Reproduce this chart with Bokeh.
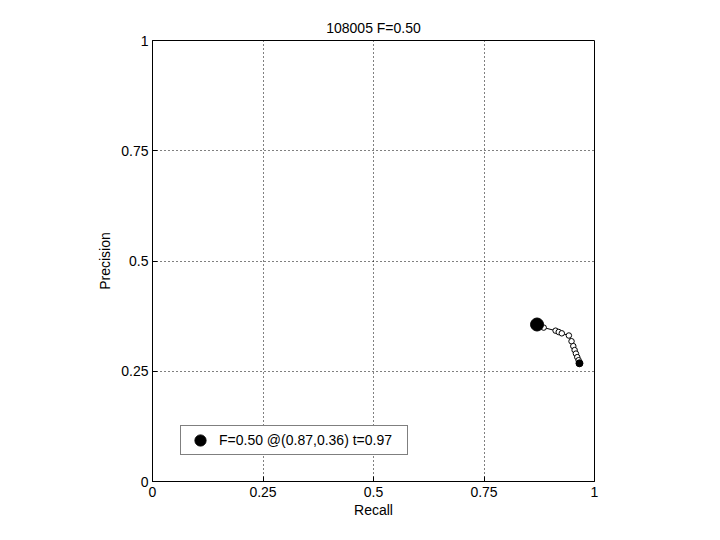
from bokeh.plotting import figure
from bokeh.models import Range1d, FixedTicker, Legend, LegendItem, Title
from bokeh.embed import file_html
from bokeh.resources import INLINE

# Data
recall = [0.866, 0.872, 0.885, 0.912, 0.919, 0.926, 0.942, 0.948, 0.952, 0.955, 0.958, 0.961, 0.964, 0.966]
precision = [0.356, 0.353, 0.349, 0.342, 0.339, 0.336, 0.331, 0.318, 0.307, 0.298, 0.290, 0.282, 0.275, 0.268]
best_recall = [0.87]
best_precision = [0.356]
title_text = "108005 F=0.50"
legend_text = "F=0.50 @(0.87,0.36) t=0.97"
ticks = [0, 0.25, 0.5, 0.75, 1]
tick_labels = {0: "0", 0.25: "0.25", 0.5: "0.5", 0.75: "0.75", 1: "1"}

FONT = "Liberation Sans"
FS = "14px"

p = figure(width=712, height=532, output_backend="svg", toolbar_location=None,
           x_range=Range1d(0, 1), y_range=Range1d(0, 1),
           min_border_left=152, min_border_right=118, min_border_top=40, min_border_bottom=51,
           frame_width=442, frame_height=441)

p.title = Title(text=title_text, align="center", text_font=FONT, text_font_size=FS,
                text_font_style="normal", text_color="black", offset=0)
p.outline_line_color = "black"
p.outline_line_width = 1
p.outline_line_alpha = 1
p.background_fill_color = "white"
p.border_fill_color = "white"

for ax in (p.xaxis[0], p.yaxis[0]):
    ax.ticker = FixedTicker(ticks=ticks)
    ax.major_label_overrides = tick_labels
    ax.major_tick_in = 5
    ax.major_tick_out = 0
    ax.minor_tick_in = 0
    ax.minor_tick_out = 0
    ax.axis_line_color = "black"
    ax.major_tick_line_color = "black"
    ax.major_label_text_font = FONT
    ax.major_label_text_font_size = FS
    ax.major_label_text_color = "black"
    ax.axis_label_text_font = FONT
    ax.axis_label_text_font_size = FS
    ax.axis_label_text_font_style = "normal"
    ax.axis_label_text_color = "black"

p.xaxis.axis_label = "Recall"
p.yaxis.axis_label = "Precision"
p.xaxis.major_label_standoff = 5
p.xaxis.axis_label_standoff = 2
p.yaxis.major_label_standoff = 4
p.yaxis.axis_label_standoff = 5

for g in (p.xgrid[0], p.ygrid[0]):
    g.ticker = FixedTicker(ticks=[0.25, 0.5, 0.75])
    g.grid_line_color = "black"
    g.grid_line_dash = "1 3"
    g.grid_line_width = 1

p.line(recall, precision, line_color="black", line_width=1)
p.scatter(recall, precision, marker="circle", size=5.5, fill_color="white",
          line_color="black", line_width=1)
p.scatter(recall[-1:], precision[-1:], marker="circle", size=7, fill_color="black",
          line_color="black")
best = p.scatter(best_recall, best_precision, marker="circle", size=13,
                 fill_color="black", line_color="black")

legend = Legend(items=[LegendItem(label=legend_text, renderers=[best])],
                location=(28, 26), border_line_color="black", border_line_width=1,
                background_fill_color="white", background_fill_alpha=1,
                label_text_font=FONT, label_text_font_size=FS, label_text_color="black",
                glyph_width=38, glyph_height=28, padding=0, margin=0,
                label_standoff=0, spacing=0, label_width=188, label_height=20)
p.add_layout(legend, "center")

open("out.html", "w").write(file_html(p, INLINE))
